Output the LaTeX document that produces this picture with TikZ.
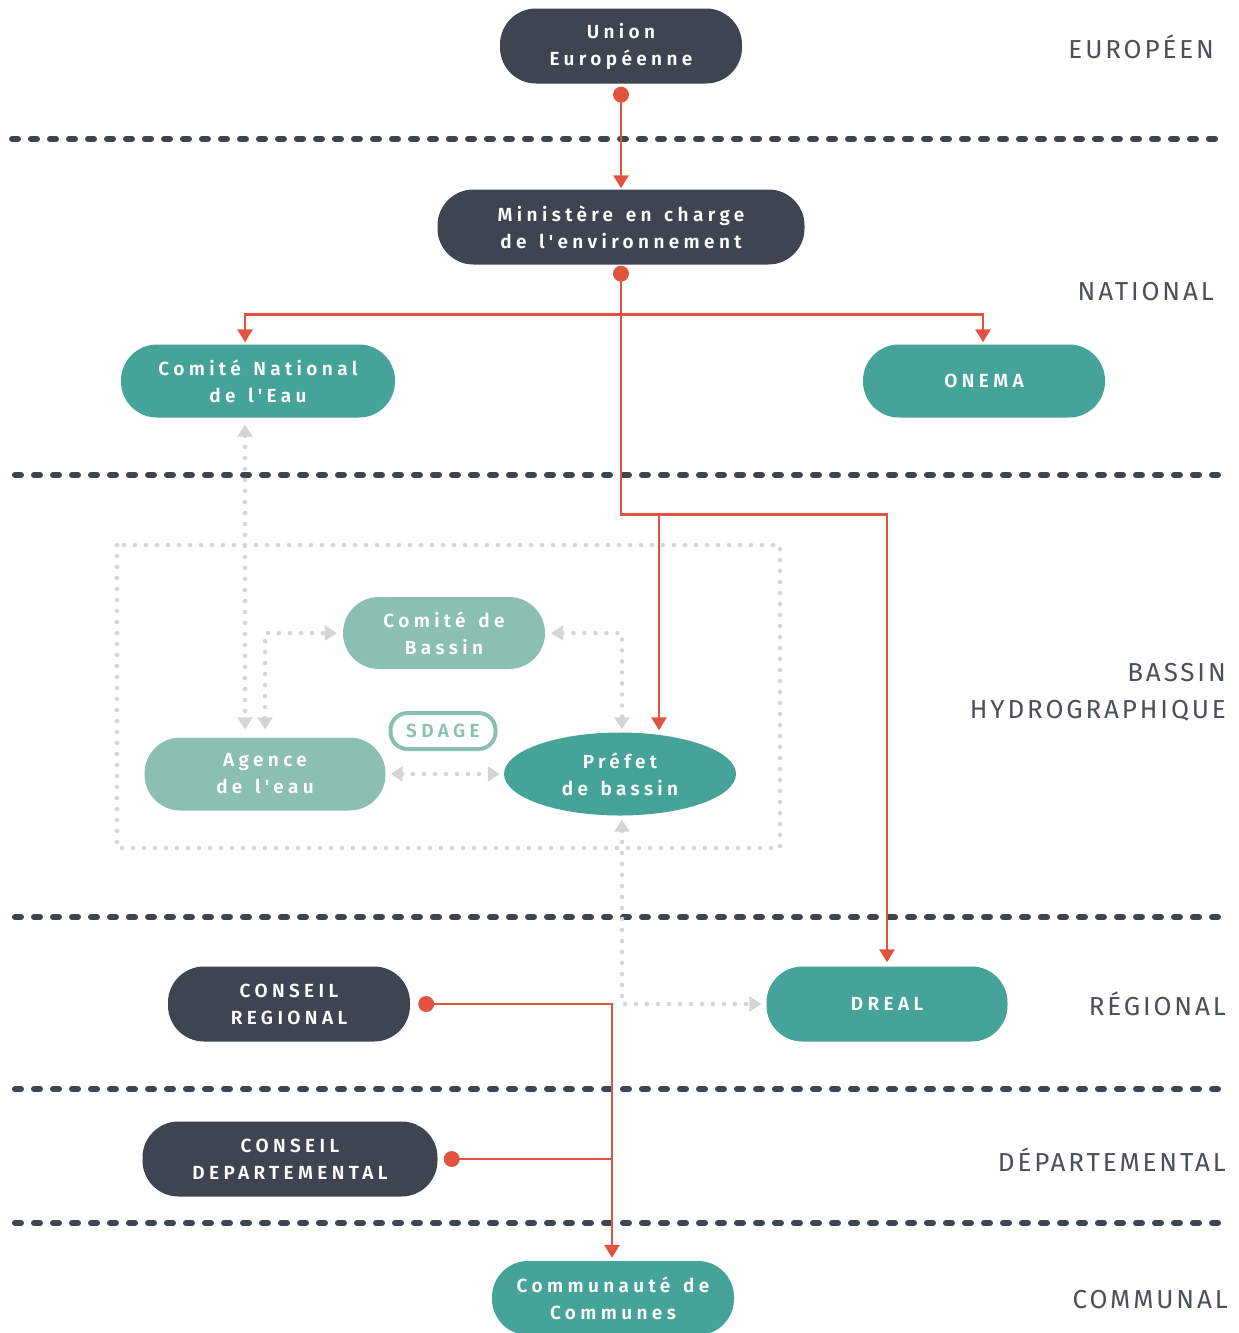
\documentclass[tikz,border=0pt]{standalone}
\usepackage{fontspec}
\setmainfont{Fira Sans}
\IfFontExistsTF{Fira Sans SemiBold}
  {\newfontfamily\nodefont{Fira Sans}[BoldFont={Fira Sans SemiBold},LetterSpace=23,WordSpace=1.4]}
  {\newfontfamily\nodefont{Fira Sans}[LetterSpace=23,WordSpace=1.4]}
\IfFontExistsTF{Fira Sans Book}
  {\newfontfamily\lblfont{Fira Sans Book}[LetterSpace=11]}
  {\newfontfamily\lblfont{Fira Sans}[LetterSpace=11]}
\usetikzlibrary{arrows.meta,shapes.geometric,calc,backgrounds}
\definecolor{darkc}{HTML}{3E4550}
\definecolor{tealc}{HTML}{45A39A}
\definecolor{ltealc}{HTML}{8ABFB1}
\definecolor{redc}{HTML}{E0533E}
\definecolor{dotgrey}{HTML}{D4D4D4}
\definecolor{lblgrey}{HTML}{4A5059}
\begin{document}
\begin{tikzpicture}[x=1pt,y=-1pt,
  pill/.style={rectangle, rounded corners=36pt, minimum height=75pt, inner sep=0pt,
    text=white, align=center, font=\nodefont\bfseries\fontsize{19}{27}\selectfont},
  darkpill/.style={pill, fill=darkc},
  tealpill/.style={pill, fill=tealc},
  ltealpill/.style={pill, fill=ltealc},
  lbl/.style={anchor=east, align=right, inner sep=0pt, text=lblgrey,
    font=\lblfont\fontsize{26}{37}\selectfont},
  sep/.style={line width=6pt, darkc, line cap=round, dash pattern=on 6pt off 13pt},
  redl/.style={line width=2.8pt, redc},
  redarr/.style={redl, -{Triangle[length=13pt,width=15pt]}},
  gdot/.style={line width=4.5pt, dotgrey, line cap=round, dash pattern=on 0pt off 11pt},
  garr/.style={gdot, {Triangle[length=12pt,width=15pt]}-{Triangle[length=12pt,width=15pt]}},
  reddot/.style={fill=redc}
]
\useasboundingbox (0,0) rectangle (1239,1333);

% nodes
\node[darkpill, minimum width=242pt] (uni) at (621,46) {Union\\Européenne};
\node[darkpill, minimum width=367pt] (min) at (621,227) {Ministère en charge\\de l'environnement};
\node[tealpill, minimum width=274pt, minimum height=73pt] (cne) at (258,381) {Comité National\\de l'Eau};
\node[tealpill, minimum width=242pt, minimum height=73pt] (onema) at (984,381) {ONEMA};
\node[ltealpill, minimum width=202pt, minimum height=72pt] (cb) at (444,633) {Comité de\\Bassin};
\node[ltealpill, minimum width=241pt, minimum height=73pt] (ag) at (265,774) {Agence\\de l'eau};
\node[pill, draw=ltealc, line width=4pt, rounded corners=17pt, minimum width=105pt, minimum height=36pt, text=ltealc] (sdage) at (443,731) {SDAGE};
\node[ellipse, fill=tealc, minimum width=232pt, minimum height=83pt, inner sep=0pt, text=white, align=center,
  font=\nodefont\bfseries\fontsize{19}{27}\selectfont] (pref) at (620,774) {Préfet\\de bassin};
\node[darkpill, minimum width=242pt] (cr) at (289,1004) {CONSEIL\\REGIONAL};
\node[tealpill, minimum width=241pt] (dreal) at (887,1004) {DREAL};
\node[darkpill, minimum width=295pt] (cd) at (290,1159) {CONSEIL\\DEPARTEMENTAL};
\node[tealpill, minimum width=242pt, minimum height=74pt] (cc) at (613,1298) {Communauté de\\Communes};

% level labels
\node[lbl] (l1) at (1214,47) {EUROPÉEN};
\node[lbl] (l2) at (1214,292) {NATIONAL};
\node[lbl] (l3) at (1226,692) {BASSIN\\HYDROGRAPHIQUE};
\node[lbl] (l4) at (1226,1004) {RÉGIONAL};
\node[lbl] (l5) at (1226,1160) {DÉPARTEMENTAL};
\node[lbl] (l6) at (1228,1300) {COMMUNAL};

\begin{scope}[on background layer]
  % separators
  \draw[sep] (12,139) -- (1224,139);
  \draw[sep] (15,475) -- (1226,475);
  \draw[sep] (15,917) -- (1226,917);
  \draw[sep] (15,1089) -- (1226,1089);
  \draw[sep] (15,1223) -- (1226,1223);
  % dotted box
  \draw[gdot] (117,545) rectangle (780,848);
  % grey dotted connectors
  \draw[garr] ($(cne.south)+(-13,7)$) -- ($(ag.north)+(-20,-8)$);
  \draw[garr] ($(ag.north)+(0,-8)$) |- ($(cb.west)+(-6,0)$);
  \draw[garr] ($(cb.east)+(6,0)$) -| ($(pref.north)+(2,-3)$);
  \draw[garr] ($(ag.east)+(5,0)$) -- ($(pref.west)+(-4,0)$);
  \draw[garr] ($(pref.south)+(2,4)$) |- ($(dreal.west)+(-5,0)$);
  % red connectors
  \coordinate (u0) at ($(uni.south)+(0,11)$);
  \coordinate (m0) at ($(min.south)+(0,9)$);
  \coordinate (br) at ($(min.south)+(0,50)$);
  \coordinate (jn) at ($(min.south)+(0,250)$);
  \coordinate (pj) at ($(jn)+(38,0)$);
  \coordinate (pt) at ($(pref.north)+(0,-2)$);
  \draw[redarr] (u0) -- ($(min.north)+(0,-1)$);
  \draw[redl] (m0) -- (br);
  \draw[redarr] (br) -| ($(cne.north)+(-13,-2)$);
  \draw[redarr] (br) -| ($(onema.north)+(-1,-2)$);
  \draw[redarr] (br) -- (jn) -| ($(dreal.north)+(0,-4)$);
  \draw[redarr] (pj) -- (pj |- pt);
  \coordinate (r0) at ($(cr.east)+(16,0)$);
  \coordinate (d0) at ($(cd.east)+(14,0)$);
  \draw[redarr] (r0) -| ($(cc.north)+(-1,-3)$);
  \draw[redl] (d0) -- ($(d0 -| cc.north)+(-1,0)$);
\end{scope}
\fill[reddot] (u0) circle (8pt);
\fill[reddot] (m0) circle (8pt);
\fill[reddot] (r0) circle (8pt);
\fill[reddot] (d0) circle (8pt);
\end{tikzpicture}
\end{document}
